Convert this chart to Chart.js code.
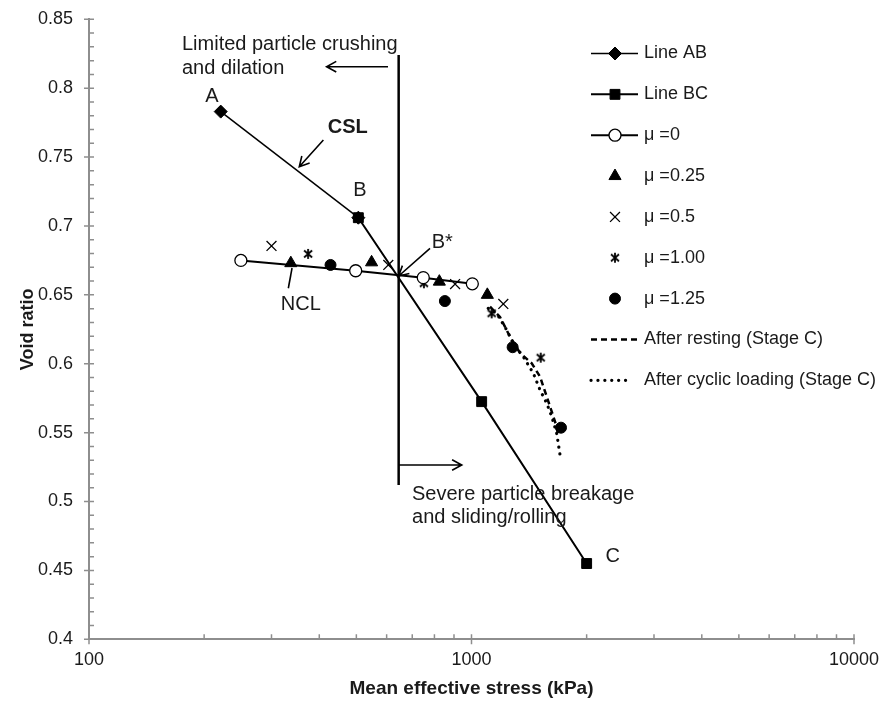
<!DOCTYPE html>
<html>
<head>
<meta charset="utf-8">
<script src="https://cdn.jsdelivr.net/npm/chart.js"></script>
<style>
  html, body { margin: 0; padding: 0; background: #fff; }
  #wrap { width: 882px; height: 708px; }
</style>
</head>
<body>
<div id="wrap"><canvas id="chart" width="882" height="708"></canvas></div>
<script>
// mean effective stress p' (kPa) and void ratio e
const lineAB_p = [221, 506];
const lineAB_e = [0.783, 0.706];
const lineBC_p = [506, 1063, 2000];
const lineBC_e = [0.706, 0.5725, 0.455];

const mu0_p = [249.5, 498, 748, 1005];
const mu0_e = [0.675, 0.6675, 0.6625, 0.658];
const mu025_p = [337, 548, 824, 1100];
const mu025_e = [0.673, 0.6736, 0.6596, 0.650];
const mu05_p = [300, 606, 906, 1211];
const mu05_e = [0.6855, 0.6717, 0.6578, 0.6434];
const mu100_p = [374, 751, 1129, 1517];
const mu100_e = [0.6797, 0.6584, 0.6366, 0.6044];
const mu125_p = [428, 852, 1281, 1714];
const mu125_e = [0.6717, 0.6455, 0.612, 0.5536];

const resting_p = [1118, 1187, 1261, 1339, 1437, 1511, 1573, 1621, 1670, 1686];
const resting_e = [0.6414, 0.634, 0.6196, 0.6078, 0.6003, 0.5906, 0.5761, 0.5652, 0.5543, 0.547];
const cyclic_p = [1106, 1164, 1236, 1286, 1366, 1451, 1511, 1573, 1621, 1670, 1704];
const cyclic_e = [0.6402, 0.6366, 0.6245, 0.6148, 0.6051, 0.5931, 0.5809, 0.5713, 0.5616, 0.5495, 0.5338];

// boundary between the two regimes
const boundary_p = [645, 645];
const boundary_e = [0.824, 0.512];

const seriesLabels = ['Line AB', 'Line BC', 'μ =0', 'μ =0.25', 'μ =0.5', 'μ =1.00', 'μ =1.25',
                      'After resting (Stage C)', 'After cyclic loading (Stage C)'];
const xTicks = [100, 1000, 10000];
const yMin = 0.4, yMax = 0.85, yStep = 0.05;

// text notes on the plot (data coordinates)
const noteTexts = ['Limited particle crushing', 'and dilation', 'Severe particle breakage', 'and sliding/rolling',
                   'A', 'B', 'C', 'B*', 'NCL', 'CSL'];
const noteP = [175, 175, 699, 699, 209.7, 511, 2339, 787, 358, 475];
const noteE = [0.8277, 0.8103, 0.5008, 0.4847, 0.7902, 0.7218, 0.4563, 0.6838, 0.639, 0.7673];

const textColor = '#1a1a1a';
const axisColor = '#8e8e8e';
const FONT = '"Liberation Sans", Arial, sans-serif';

function pts(ps, es) {
    return ps.map((p, i) => ({x: p, y: es[i]}));
}

function asteriskMarker() {
    const c = document.createElement('canvas');
    c.width = 14; c.height = 14;
    const g = c.getContext('2d');
    g.strokeStyle = '#000';
    g.lineWidth = 1.8;
    g.beginPath();
    g.moveTo(3, 3.5); g.lineTo(11, 10.5);
    g.moveTo(11, 3.5); g.lineTo(3, 10.5);
    g.moveTo(7, 2); g.lineTo(7, 12);
    g.stroke();
    return c;
}

const base = {
    borderColor: '#000',
    pointBorderColor: '#000',
    pointBackgroundColor: '#000',
    pointBorderWidth: 1,
    showLine: false,
    pointRadius: 0
};

const datasets = [
    Object.assign({}, base, {label: seriesLabels[0], data: pts(lineAB_p, lineAB_e), showLine: true,
        borderWidth: 1.5, pointStyle: 'rectRot', pointRadius: 6.5}),
    Object.assign({}, base, {label: seriesLabels[1], data: pts(lineBC_p, lineBC_e), showLine: true,
        borderWidth: 2, pointStyle: 'rect', pointRadius: 7}),
    Object.assign({}, base, {label: seriesLabels[2], data: pts(mu0_p, mu0_e), showLine: true,
        borderWidth: 2, pointStyle: 'circle', pointRadius: 6, pointBackgroundColor: '#fff', pointBorderWidth: 1.3}),
    Object.assign({}, base, {label: seriesLabels[3], data: pts(mu025_p, mu025_e),
        pointStyle: 'triangle', pointRadius: 7}),
    Object.assign({}, base, {label: seriesLabels[4], data: pts(mu05_p, mu05_e),
        pointStyle: 'crossRot', pointRadius: 7, pointBorderWidth: 1.3}),
    Object.assign({}, base, {label: seriesLabels[5], data: pts(mu100_p, mu100_e),
        pointStyle: asteriskMarker(), pointRadius: 6}),
    Object.assign({}, base, {label: seriesLabels[6], data: pts(mu125_p, mu125_e),
        pointStyle: 'circle', pointRadius: 5.5}),
    Object.assign({}, base, {label: seriesLabels[7], data: pts(resting_p, resting_e), showLine: true,
        borderWidth: 2.5, borderDash: [6, 4]}),
    Object.assign({}, base, {label: seriesLabels[8], data: pts(cyclic_p, cyclic_e), showLine: true,
        borderWidth: 3.2, borderDash: [0.1, 6.8], borderCapStyle: 'round'}),
    Object.assign({}, base, {label: 'boundary', data: pts(boundary_p, boundary_e), showLine: true,
        borderWidth: 2.5, hideInLegend: true})
];

// minor/major tick marks like the original axes
const axisTicks = {
    id: 'axisTicks',
    afterDraw(chart) {
        const {ctx, chartArea: a, scales: {x, y}} = chart;
        ctx.save();
        ctx.strokeStyle = axisColor;
        ctx.lineWidth = 1.5;
        ctx.beginPath();
        for (let k = 0; k <= 45; k++) {
            const yy = y.getPixelForValue(yMin + k * 0.01);
            const major = k % 5 === 0;
            ctx.moveTo(a.left - (major ? 5 : 0), yy);
            ctx.lineTo(a.left + 5, yy);
        }
        for (let d = 100; d <= 10000; d *= 10) {
            for (let m = 1; m <= 9; m++) {
                const v = d * m;
                if (v > 10000) break;
                const xx = x.getPixelForValue(v);
                ctx.moveTo(xx, a.bottom + (m === 1 ? 5 : 0));
                ctx.lineTo(xx, a.bottom - 5);
            }
        }
        ctx.stroke();
        ctx.restore();
    }
};

function arrow(ctx, x1, y1, x2, y2, head) {
    ctx.beginPath();
    ctx.moveTo(x1, y1);
    ctx.lineTo(x2, y2);
    if (head) {
        const ang = Math.atan2(y2 - y1, x2 - x1);
        const L = 11, w = 0.5;
        ctx.moveTo(x2 - L * Math.cos(ang - w), y2 - L * Math.sin(ang - w));
        ctx.lineTo(x2, y2);
        ctx.lineTo(x2 - L * Math.cos(ang + w), y2 - L * Math.sin(ang + w));
    }
    ctx.stroke();
}

const notes = {
    id: 'notes',
    afterDatasetsDraw(chart) {
        const {ctx, scales: {x, y}} = chart;
        const X = v => x.getPixelForValue(v);
        const Y = v => y.getPixelForValue(v);
        ctx.save();
        ctx.fillStyle = textColor;
        ctx.textBaseline = 'alphabetic';
        noteTexts.forEach((t, i) => {
            const left = i < 4 || t === 'B*';
            ctx.textAlign = left ? 'left' : 'center';
            ctx.font = (t === 'CSL' ? 'bold ' : '') + '20px ' + FONT;
            ctx.fillText(t, X(noteP[i]), Y(noteE[i]));
        });
        ctx.strokeStyle = '#000';
        ctx.lineWidth = 1.6;
        arrow(ctx, X(605), Y(0.8156), X(418), Y(0.8156), true);
        arrow(ctx, X(645), Y(0.5265), X(943), Y(0.5265), true);
        arrow(ctx, X(410), Y(0.7624), X(354.6), Y(0.743), true);
        arrow(ctx, X(779), Y(0.6838), X(645), Y(0.6637), true);
        arrow(ctx, X(332), Y(0.6548), X(339.5), Y(0.6695), false);
        ctx.restore();
    }
};

const legendBox = {
    id: 'legendBox',
    afterDraw(chart) {
        const ctx = chart.ctx;
        let row = 0;
        chart.data.datasets.forEach(ds => {
            if (ds.hideInLegend) return;
            const yy = 53.5 + row * 40.85;
            row++;
            ctx.save();
            if (ds.showLine) {
                ctx.strokeStyle = '#000';
                ctx.lineWidth = ds.borderWidth;
                ctx.setLineDash(ds.borderDash || []);
                ctx.lineCap = ds.borderCapStyle || 'butt';
                ctx.beginPath();
                ctx.moveTo(591, yy);
                ctx.lineTo(ds.borderCapStyle ? 632 : 638, yy);
                ctx.stroke();
            }
            ctx.setLineDash([]);
            ctx.lineCap = 'butt';
            if (ds.pointRadius > 0) {
                ctx.fillStyle = ds.pointBackgroundColor;
                ctx.strokeStyle = ds.pointBorderColor;
                ctx.lineWidth = ds.pointBorderWidth;
                Chart.helpers.drawPoint(ctx, {pointStyle: ds.pointStyle, radius: ds.pointRadius,
                    borderWidth: ds.pointBorderWidth, rotation: 0}, 615, yy);
            }
            ctx.fillStyle = textColor;
            ctx.font = '18px ' + FONT;
            ctx.textAlign = 'left';
            ctx.textBaseline = 'middle';
            ctx.fillText(ds.label, 644, yy);
            ctx.restore();
        });
    }
};

new Chart(document.getElementById('chart'), {
    type: 'scatter',
    data: {datasets: datasets},
    plugins: [axisTicks, notes, legendBox],
    options: {
        responsive: false,
        animation: false,
        events: [],
        layout: {padding: {top: 19.3, right: 28, left: 0, bottom: 0}},
        plugins: {legend: {display: false}, tooltip: {enabled: false}},
        scales: {
            x: {
                type: 'logarithmic',
                min: 100,
                max: 10000,
                afterBuildTicks: s => { s.ticks = xTicks.map(v => ({value: v})); },
                afterFit: s => { s.height = 68.7; s.paddingLeft = 0; s.paddingRight = 0; },
                grid: {display: false, drawTicks: false},
                border: {display: true, color: axisColor, width: 2},
                ticks: {
                    font: {family: FONT, size: 18},
                    color: textColor,
                    padding: 10,
                    maxRotation: 0,
                    autoSkip: false,
                    callback: v => String(v)
                },
                title: {
                    display: true,
                    text: 'Mean effective stress (kPa)',
                    color: textColor,
                    font: {family: FONT, size: 19, weight: 'bold'},
                    padding: {top: 0, bottom: 8}
                }
            },
            y: {
                min: yMin,
                max: yMax,
                afterFit: s => { s.width = 89; s.paddingTop = 0; s.paddingBottom = 0; },
                grid: {display: false, drawTicks: false},
                border: {display: true, color: axisColor, width: 2},
                ticks: {
                    stepSize: yStep,
                    font: {family: FONT, size: 18},
                    color: textColor,
                    padding: 16,
                    callback: v => String(+v.toFixed(2))
                },
                title: {
                    display: true,
                    text: 'Void ratio',
                    color: textColor,
                    font: {family: FONT, size: 18, weight: 'bold'},
                    padding: {top: 17, bottom: 0}
                }
            }
        }
    }
});
</script>
</body>
</html>
